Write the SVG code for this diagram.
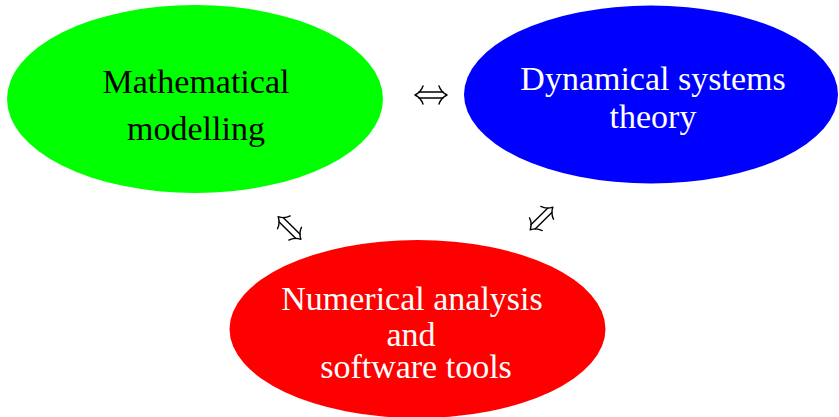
<svg xmlns="http://www.w3.org/2000/svg" width="839" height="417" viewBox="0 0 839 417">
<style>
.lbl{font-family:"Liberation Serif","Times New Roman",serif;font-size:34px;text-anchor:middle}
.dbl{fill:none;stroke:#000;stroke-width:1.4;stroke-linecap:round}
</style>
<defs>
<g id="dblarrow">
<path class="dbl" d="M-12,-3 H12 M-12,3 H12"/>
<path class="dbl" d="M16,0 Q10,-3 8,-9 M16,0 Q10,3 8,9 M-16,0 Q-10,-3 -8,-9 M-16,0 Q-10,3 -8,9"/>
</g>
</defs>
<rect width="839" height="417" fill="#fff"/>
<g id="node-math">
<ellipse cx="195" cy="99" rx="188" ry="94" fill="#00ff00"/>
<text class="lbl" x="196" y="93" fill="#000">Mathematical</text>
<text class="lbl" x="196" y="140" fill="#000">modelling</text>
</g>
<g id="node-dyn">
<ellipse cx="651" cy="94.5" rx="187" ry="89" fill="#0000ff"/>
<text class="lbl" x="653" y="90" fill="#fff">Dynamical systems</text>
<text class="lbl" x="653" y="128" fill="#fff">theory</text>
</g>
<g id="node-num">
<ellipse cx="417.5" cy="329" rx="188" ry="89" fill="#ff0000"/>
<text class="lbl" x="412" y="310" fill="#fff">Numerical analysis</text>
<text class="lbl" x="411" y="346" fill="#fff">and</text>
<text class="lbl" x="416" y="378" fill="#fff">software tools</text>
</g>
<g id="connectors">
<use href="#dblarrow" transform="translate(431,95)"/>
<use href="#dblarrow" transform="translate(289.5,228) rotate(45)"/>
<use href="#dblarrow" transform="translate(541.5,218.5) rotate(-45)"/>
</g>
</svg>
